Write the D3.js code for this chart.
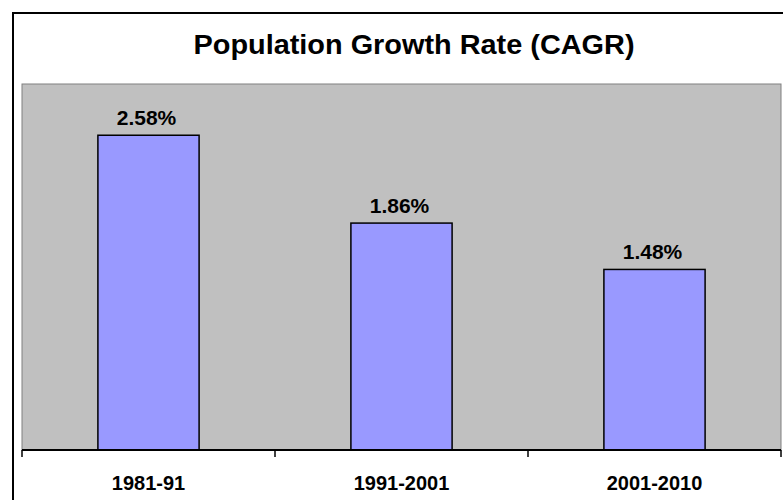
<!DOCTYPE html>
<html>
<head>
<meta charset="utf-8">
<script src="https://cdn.jsdelivr.net/npm/d3@7"></script>
<style>
  body { margin: 0; background: #fff; }
  svg { display: block; font-family: Arial, "Liberation Sans", sans-serif; }
</style>
</head>
<body>
<svg width="783" height="500"></svg>
<script>
var periods = ["1981-91", "1991-2001", "2001-2010"];
var rates = [2.58, 1.86, 1.48];
var labels = ["2.58%", "1.86%", "1.48%"];

var svg = d3.select("svg");
var width = 783;
var height = 500;

var plot = {left: 22, top: 84, right: 781, bottom: 450};

// outer chart frame (runs past the picture on the right and bottom)
svg.append("rect")
  .attr("x", 13).attr("y", 13)
  .attr("width", 900).attr("height", 600)
  .attr("fill", "#fff")
  .attr("stroke", "#000")
  .attr("stroke-width", 2);

var x = d3.scaleBand()
  .domain(periods)
  .range([plot.left, plot.right])
  .paddingInner(0.6)
  .paddingOuter(0.3);

var y = d3.scaleLinear()
  .domain([0, 3])
  .range([plot.bottom, plot.top]);

svg.append("rect")
  .attr("x", plot.left).attr("y", plot.top)
  .attr("width", plot.right - plot.left)
  .attr("height", plot.bottom - plot.top)
  .attr("fill", "#c0c0c0")
  .attr("stroke", "#808080")
  .attr("stroke-width", 1);

svg.selectAll("rect.bar")
  .data(rates)
  .enter().append("rect")
  .attr("class", "bar")
  .attr("x", function(d, i) { return x(periods[i]); })
  .attr("y", function(d) { return y(d); })
  .attr("width", x.bandwidth())
  .attr("height", function(d) { return y(0) - y(d); })
  .attr("fill", "#9999ff")
  .attr("stroke", "#000")
  .attr("stroke-width", 1.5);

svg.selectAll("text.val")
  .data(rates)
  .enter().append("text")
  .attr("class", "val")
  .attr("x", function(d, i) { return x(periods[i]) + x.bandwidth() / 2 - 2; })
  .attr("y", function(d) { return y(d) - 10; })
  .attr("text-anchor", "middle")
  .attr("font-size", 21)
  .attr("font-weight", "bold")
  .text(function(d, i) { return labels[i]; });

// category axis: ticks between categories
var axis = svg.append("g").attr("transform", "translate(0," + plot.bottom + ")");
axis.append("line")
  .attr("x1", plot.left).attr("x2", plot.right)
  .attr("stroke", "#000").attr("stroke-width", 2);

var edges = periods.map(function(p) { return x(p) - x.step() * x.paddingInner() / 2; });
edges.push(plot.right);
edges[0] = plot.left;
axis.selectAll("line.tick")
  .data(edges)
  .enter().append("line")
  .attr("class", "tick")
  .attr("x1", function(d) { return d; }).attr("x2", function(d) { return d; })
  .attr("y1", 0).attr("y2", 7)
  .attr("stroke", "#000").attr("stroke-width", 1.5);

axis.selectAll("text")
  .data(periods)
  .enter().append("text")
  .attr("x", function(d) { return x(d) + x.bandwidth() / 2; })
  .attr("y", 40)
  .attr("text-anchor", "middle")
  .attr("font-size", 20)
  .attr("font-weight", "bold")
  .text(function(d) { return d; });

svg.append("text")
  .attr("x", 414)
  .attr("y", 54)
  .attr("text-anchor", "middle")
  .attr("font-size", 27)
  .attr("font-weight", "bold")
  .attr("textLength", 441)
  .attr("lengthAdjust", "spacingAndGlyphs")
  .text("Population Growth Rate (CAGR)");
</script>
</body>
</html>
